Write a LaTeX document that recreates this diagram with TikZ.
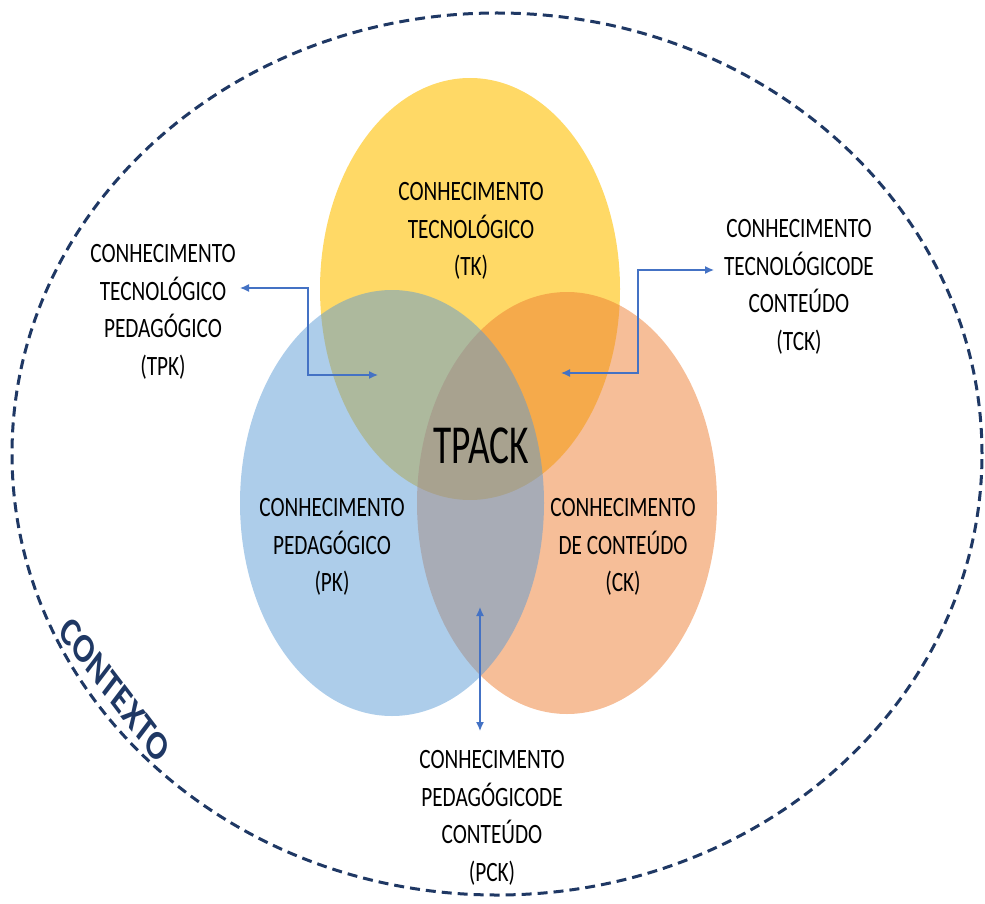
\documentclass[tikz,border=0pt]{standalone}
\usepackage{fontspec}
\setmainfont{Carlito}[FakeStretch=0.76]
\newfontfamily\tpackfont{Carlito}[FakeStretch=0.68]
\newfontfamily\ctxfont{Carlito}
\usetikzlibrary{arrows.meta}
\definecolor{navy}{HTML}{1F3864}
\definecolor{arrowblue}{HTML}{4472C4}
\definecolor{tkcol}{HTML}{FFC000}
\definecolor{pkcol}{HTML}{5B9BD5}
\definecolor{ckcol}{HTML}{ED7D31}
\begin{document}
\begin{tikzpicture}[x=1pt,y=-1pt,
  label text/.style={align=center, inner sep=0pt, font=\fontsize{28}{37.5}\selectfont, text=black},
  conn/.style={draw=arrowblue, line width=1.3pt, {Latex[length=9pt,width=8pt]}-{Latex[length=9pt,width=8pt]}},
  context line/.style={draw=navy, line width=3pt, dash pattern=on 10pt off 6pt}]
\useasboundingbox (0,0) rectangle (985,904);
% circles
\fill[tkcol, fill opacity=0.6] (470,289) ellipse [x radius=150pt, y radius=211pt];
\fill[ckcol, fill opacity=0.5] (567,503) ellipse [x radius=150pt, y radius=211pt];
\fill[pkcol, fill opacity=0.5] (392,503) ellipse [x radius=152pt, y radius=213pt];
% outer context
\draw[context line] (497,454) ellipse [x radius=485pt, y radius=441pt];
\begin{scope}[shift={(115,690)}, xscale=0.76]
  \node[rotate=-45, transform shape, inner sep=0pt, text=navy, font=\ctxfont\bfseries\fontsize{41}{43}\selectfont] (ctx) at (0,0) {CONTEXTO};
\end{scope}
% labels
\node[label text] (tk) at (471,231) {CONHECIMENTO\\TECNOLÓGICO\\(TK)};
\node[label text] (pk) at (332,547) {CONHECIMENTO\\PEDAGÓGICO\\(PK)};
\node[label text] (ck) at (623,547) {CONHECIMENTO\\DE CONTEÚDO\\(CK)};
\node[label text] (tpk) at (163,312) {CONHECIMENTO\\TECNOLÓGICO\\PEDAGÓGICO\\(TPK)};
\node[label text] (tck) at (799,287) {CONHECIMENTO\\TECNOLÓGICODE\\CONTEÚDO\\(TCK)};
\node[label text] (pck) at (492,818) {CONHECIMENTO\\PEDAGÓGICODE\\CONTEÚDO\\(PCK)};
\node[inner sep=0pt, font=\tpackfont\fontsize{55}{60}\selectfont] (tpack) at (481,446) {TPACK};
% connectors
\coordinate (tpkA) at (240,288);
\coordinate (tpkB) at (378,375);
\coordinate (tckA) at (714,270);
\coordinate (tckB) at (561,373);
\coordinate (pckA) at (480,607);
\coordinate (pckB) at (480,731);
\draw[conn] (tpkA) -- (308,288) |- (tpkB);
\draw[conn] (tckA) -- (638,270) |- (tckB);
\draw[conn] (pckA) -- (pckB);
\end{tikzpicture}
\end{document}
